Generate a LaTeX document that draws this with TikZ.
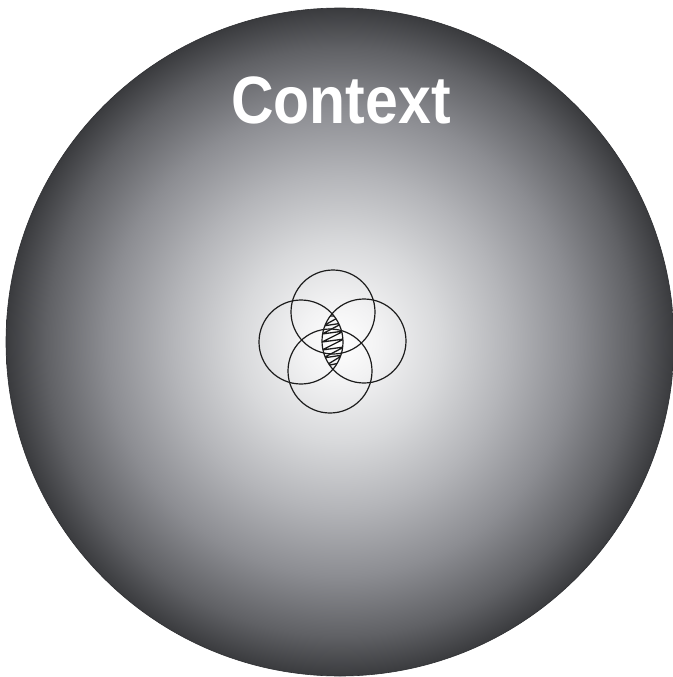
\documentclass[tikz,border=0pt]{standalone}
\usepackage{fontspec}
\newfontfamily\ctxfont{Liberation Sans}[FakeStretch=0.88]
\definecolor{edgec}{HTML}{3A3B3E}
\definecolor{g1}{HTML}{F2F2F3}
\definecolor{g2}{HTML}{D8D9DB}
\definecolor{g3}{HTML}{B4B5B9}
\definecolor{g4}{HTML}{8C8D92}
\definecolor{g5}{HTML}{606165}
\definecolor{inkc}{HTML}{1C1C1C}
\pgfdeclareradialshading{ctxshade}{\pgfpoint{0bp}{0bp}}{%
  color(0bp)=(white); color(3bp)=(g1); color(7.5bp)=(g2); color(12.5bp)=(g3);
  color(17.5bp)=(g4); color(22bp)=(g5); color(25bp)=(edgec); color(50bp)=(edgec)}
\tikzset{
  ring/.style={circle, draw=inkc, line width=1.2pt, minimum size=84pt, inner sep=0pt},
  label/.style={text=white, font=\ctxfont\bfseries\fontsize{67}{67}\selectfont, inner sep=0pt, anchor=base}
}
\begin{document}
\begin{tikzpicture}[x=1pt,y=-1pt]
\useasboundingbox (0,0) rectangle (672,677);
\coordinate (ctr) at (340,342);
\shade[shading=ctxshade] (ctr) circle (334);
\draw[edgec!80!black, line width=0.6pt] (ctr) circle (334);
\node[label] (ctx) at (341,123) {Context};
% hatched lens (intersection of left and right rings)
\begin{scope}
  \clip (301,342) circle (42);
  \clip (364,341) circle (42);
  \draw[inkc, line width=1.3pt, line join=round]
    (326,316) -- (341,316) -- (323,326) -- (343,323) -- (322,334) -- (344,331)
    -- (322,342) -- (344,339) -- (322,350) -- (344,347) -- (323,358) -- (343,355)
    -- (325,366) -- (340,363) -- (332,372);
\end{scope}
\node[ring] (top) at (333,312) {};
\node[ring] (left) at (301,342) {};
\node[ring] (right) at (364,341) {};
\node[ring] (bottom) at (330,371) {};
\end{tikzpicture}
\end{document}
